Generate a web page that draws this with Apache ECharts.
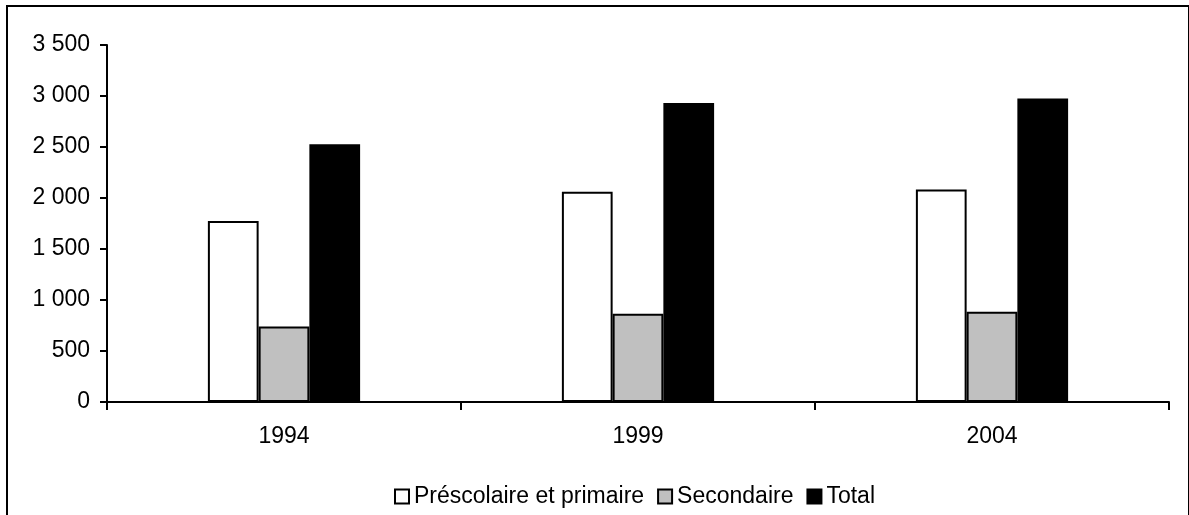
<!DOCTYPE html>
<html>
<head>
<meta charset="utf-8">
<script src="https://cdn.jsdelivr.net/npm/echarts@6/dist/echarts.min.js"></script>
<style>
    html, body { margin: 0; padding: 0; background: #fff; overflow: hidden; }
    #char1 { position: absolute; left: 0; top: 0; width: 1189px; height: 515px; }
    #frame { position: absolute; left: 6px; top: 5px; width: 1180px; height: 530px; border: 2px solid #000; pointer-events: none; }
</style>
</head>
<body>
<div id="char1"></div>
<div id="frame"></div>
<script>
var years = ['1994', '1999', '2004'];
var prescolaire = [1775, 2062, 2084];
var secondaire = [741, 864, 884];
var total = [2528, 2932, 2976];
var seriesNames = ['Préscolaire et primaire', 'Secondaire', 'Total'];

function char1() {
    var myChart = echarts.init(document.getElementById('char1'));
    var font = 'Liberation Sans, Arial, sans-serif';

    option = {
        animation: false,
        textStyle: { fontFamily: font, color: '#000' },
        legend: {
            left: 389,
            top: 480,
            itemWidth: 14,
            itemHeight: 14,
            itemGap: 13,
            icon: 'rect',
            data: seriesNames,
            itemStyle: { borderColor: '#000', borderWidth: 2 },
            textStyle: { fontFamily: font, fontSize: 23, color: '#000' }
        },
        grid: {
            left: 107,
            right: 20,
            top: 45,
            bottom: 113
        },
        xAxis: [{
            type: 'category',
            data: years,
            boundaryGap: true,
            axisLine: { lineStyle: { color: '#000', width: 2 } },
            axisTick: { show: true, length: 8, lineStyle: { color: '#000', width: 2 } },
            axisLabel: { color: '#000', fontSize: 23, fontFamily: font, margin: 23 },
            splitLine: { show: false }
        }],
        yAxis: [{
            type: 'value',
            min: 0,
            max: 3500,
            interval: 500,
            axisLine: { show: true, lineStyle: { color: '#000', width: 2 } },
            axisTick: { show: true, length: 7, lineStyle: { color: '#000', width: 2 } },
            axisLabel: {
                color: '#000', fontSize: 23, fontFamily: font, margin: 17,
                formatter: function (v) {
                    return String(v).replace(/\B(?=(\d{3})+(?!\d))/g, ' ');
                }
            },
            splitLine: { show: false }
        }],
        series: [{
                name: seriesNames[0],
                type: 'bar',
                data: prescolaire,
                barGap: '0%',
                barCategoryGap: '57%',
                itemStyle: { color: '#ffffff', borderColor: '#000', borderWidth: 2 }
            },
            {
                name: seriesNames[1],
                type: 'bar',
                data: secondaire,
                barGap: '0%',
                barCategoryGap: '57%',
                itemStyle: { color: '#c0c0c0', borderColor: '#000', borderWidth: 2 }
            },
            {
                name: seriesNames[2],
                type: 'bar',
                data: total,
                barGap: '0%',
                barCategoryGap: '57%',
                itemStyle: { color: '#000000', borderColor: '#000', borderWidth: 2 }
            }
        ]
    };

    myChart.setOption(option);
    window.addEventListener('resize', function() { myChart.resize(); });
}

char1();
</script>
</body>
</html>
